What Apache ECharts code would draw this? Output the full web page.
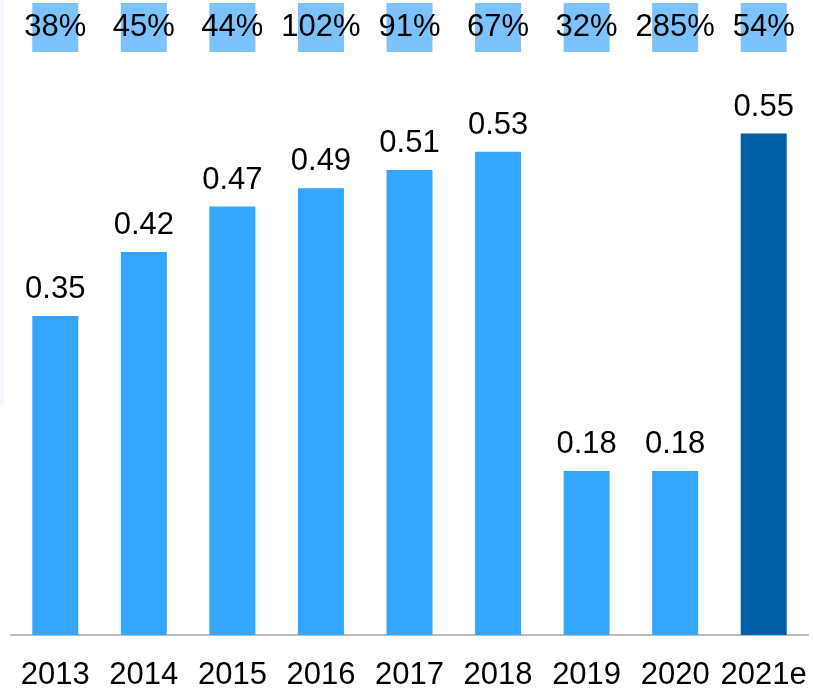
<!DOCTYPE html>
<html>
<head>
<meta charset="utf-8">
<style>
  html, body { margin: 0; padding: 0; background: #ffffff; }
  #chart { width: 813px; height: 691px; }
</style>
<script src="https://cdn.jsdelivr.net/npm/echarts@6/dist/echarts.min.js"></script>
</head>
<body>
<div id="chart"></div>
<script>
// Yearly values and growth rates
const years = ['2013', '2014', '2015', '2016', '2017', '2018', '2019', '2020', '2021e'];
const values = [0.35, 0.42, 0.47, 0.49, 0.51, 0.53, 0.18, 0.18, 0.55];
const growth = ['38%', '45%', '44%', '102%', '91%', '67%', '32%', '285%', '54%'];
const estimateYear = '2021e';

const FONT = '"Liberation Sans", Arial, sans-serif';
const BAR_COLOR = '#33a6ff';
const EST_COLOR = '#005ea6';
const BOX_COLOR = '#7cc3fd';

const chart = echarts.init(document.getElementById('chart'), null, { renderer: 'canvas' });

chart.setOption({
  animation: false,
  backgroundColor: '#ffffff',
  graphic: [{
    type: 'rect',
    shape: { x: 0, y: 0, width: 4, height: 405 },
    style: { fill: '#f2f7fd' },
    silent: true
  }],
  grid: { left: 11, right: 5, top: 88, bottom: 56 },
  xAxis: {
    type: 'category',
    data: years,
    axisLine: { lineStyle: { color: '#bdbdbd', width: 2 } },
    axisTick: { show: false },
    axisLabel: { color: '#000', fontFamily: FONT, fontSize: 31, margin: 25, interval: 0 }
  },
  yAxis: {
    type: 'value',
    min: 0,
    max: 0.6,
    show: false,
    splitLine: { show: false }
  },
  series: [
    {
      type: 'bar',
      barWidth: 46,
      data: values.map((v, i) => ({
        value: v,
        itemStyle: { color: years[i] === estimateYear ? EST_COLOR : BAR_COLOR }
      })),
      label: {
        show: true,
        position: 'top',
        distance: 11,
        color: '#000',
        fontFamily: FONT,
        fontSize: 31,
        formatter: p => p.value.toFixed(2)
      }
    },
    {
      // growth-rate boxes along the top edge
      type: 'custom',
      data: growth.map((g, i) => [i, g]),
      encode: { x: 0 },
      clip: false,
      renderItem: function (params, api) {
        const idx = api.value(0);
        const cx = api.coord([idx, 0])[0];
        const w = 46;
        return {
          type: 'group',
          children: [
            {
              type: 'rect',
              shape: { x: cx - w / 2, y: 3, width: w, height: 49 },
              style: { fill: BOX_COLOR }
            },
            {
              type: 'text',
              style: {
                text: growth[idx],
                x: cx,
                y: 27,
                align: 'center',
                verticalAlign: 'middle',
                fill: '#000',
                font: '31px ' + FONT
              }
            }
          ]
        };
      }
    }
  ]
});
</script>
</body>
</html>
